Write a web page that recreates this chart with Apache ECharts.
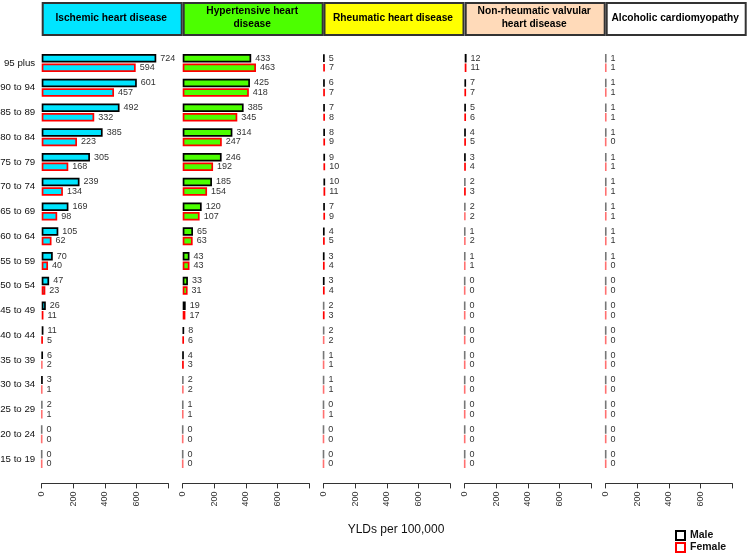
<!DOCTYPE html>
<html><head><meta charset="utf-8">
<script src="https://cdn.jsdelivr.net/npm/echarts@6/dist/echarts.min.js"></script>
<style>html,body{margin:0;padding:0;background:#fff}#c{width:747px;height:554px}</style>
</head><body><div id="c"></div>
<script>
const ageGroups = ['95 plus','90 to 94','85 to 89','80 to 84','75 to 79','70 to 74','65 to 69','60 to 64','55 to 59','50 to 54','45 to 49','40 to 44','35 to 39','30 to 34','25 to 29','20 to 24','15 to 19'];
const causes = ['Ischemic heart disease','Hypertensive heart\ndisease','Rheumatic heart disease','Non-rheumatic valvular\nheart disease','Alcoholic cardiomyopathy'];
const causeColors = ['#00E5FF','#4CFF00','#FFFF00','#FFDAB9','#FFFFFF'];
const ischemicMale   = [724,601,492,385,305,239,169,105,70,47,26,11,6,3,2,0,0];
const ischemicFemale = [594,457,332,223,168,134,98,62,40,23,11,5,2,1,1,0,0];
const hypertMale     = [433,425,385,314,246,185,120,65,43,33,19,8,4,2,1,0,0];
const hypertFemale   = [463,418,345,247,192,154,107,63,43,31,17,6,3,2,1,0,0];
const rheumMale      = [5,6,7,8,9,10,7,4,3,3,2,2,1,1,0,0,0];
const rheumFemale    = [7,7,8,9,10,11,9,5,4,4,3,2,1,1,1,0,0];
const nonRheumMale   = [12,7,5,4,3,2,2,1,1,0,0,0,0,0,0,0,0];
const nonRheumFemale = [11,7,6,5,4,3,2,2,1,0,0,0,0,0,0,0,0];
const alcMale        = [1,1,1,1,1,1,1,1,1,0,0,0,0,0,0,0,0];
const alcFemale      = [1,1,1,0,1,1,1,1,0,0,0,0,0,0,0,0,0];
const xTicks = [0,200,400,600,800];
const axisTitle = 'YLDs per 100,000';

const maleData = [ischemicMale, hypertMale, rheumMale, nonRheumMale, alcMale];
const femaleData = [ischemicFemale, hypertFemale, rheumFemale, nonRheumFemale, alcFemale];

const chart = echarts.init(document.getElementById('c'));
const panelX = [41.7, 182.7, 323.5, 464.7, 605.7];
const panelW = 126.6;
const grids=[], xAxes=[], yAxes=[], series=[], graphics=[];
const FONT = 'Liberation Sans, Arial, sans-serif';
function items(vals, dark, light){
  // very thin bars render lighter (anti-aliased hairlines) in the reference
  return vals.map(v => v < 3 ? {value:v, itemStyle:{borderColor:light, borderWidth:1.6}} : {value:v, itemStyle:{borderColor:dark}});
}
for (let i=0;i<5;i++){
  grids.push({left:panelX[i], width:panelW, top:50.6, height:420.8, outerBoundsMode:'none', containLabel:false});
  xAxes.push({type:'value', gridIndex:i, min:xTicks[0], max:xTicks[xTicks.length-1], interval:200, offset:12,
    axisLine:{show:true, lineStyle:{color:'#333', width:1}},
    axisTick:{show:true, length:5, lineStyle:{color:'#333'}},
    splitLine:{show:false},
    axisLabel:{rotate:90, margin:8, fontSize:9, color:'#333', fontFamily:FONT,
      formatter:v=> v===800?'':String(v)}});
  yAxes.push({type:'category', gridIndex:i, data:ageGroups, inverse:true,
    axisLine:{show:false}, axisTick:{show:false},
    axisLabel:{show:i===0, fontSize:9.7, color:'#111', fontFamily:FONT, margin:6.5}});
  const lab = {show:true, position:'right', distance:4, fontSize:9, color:'#333', fontFamily:FONT};
  series.push({name:'Male', type:'bar', xAxisIndex:i, yAxisIndex:i, data:items(maleData[i],'#000','#777'), barWidth:8.5, barGap:'12%',
    itemStyle:{color:causeColors[i], borderColor:'#000', borderWidth:1.7}, label:lab, animation:false});
  series.push({name:'Female', type:'bar', xAxisIndex:i, yAxisIndex:i, data:items(femaleData[i],'#FF0000','#FF7070'), barWidth:8.5, barGap:'12%',
    itemStyle:{color:causeColors[i], borderColor:'#FF0000', borderWidth:1.7}, label:lab, animation:false});
  graphics.push({type:'rect', left:panelX[i], top:2, shape:{width:139, height:32},
    style:{fill:causeColors[i], stroke:'#333', lineWidth:2}});
  graphics.push({type:'text', x:panelX[i]+69.5, y:18,
    style:{text:causes[i], fill:'#000', font:'bold 10.2px '+FONT, align:'center', verticalAlign:'middle', lineHeight:13}});
}
graphics.push({type:'text', x:396, y:530, style:{text:axisTitle, fill:'#111', font:'12px '+FONT, align:'center', verticalAlign:'middle'}});
chart.setOption({
  animation:false,
  grid:grids, xAxis:xAxes, yAxis:yAxes, series:series, graphic:graphics,
  legend:{orient:'vertical', left:675, top:529.5, padding:0, itemWidth:9, itemHeight:9, itemGap:0,
    textStyle:{fontSize:10.5, lineHeight:12, fontWeight:'bold', color:'#111', fontFamily:FONT},
    data:[{name:'Male', icon:'rect', itemStyle:{color:'#fff', borderColor:'#000', borderWidth:2}},
          {name:'Female', icon:'rect', itemStyle:{color:'#fff', borderColor:'#FF0000', borderWidth:2}}]}
});
</script></body></html>
